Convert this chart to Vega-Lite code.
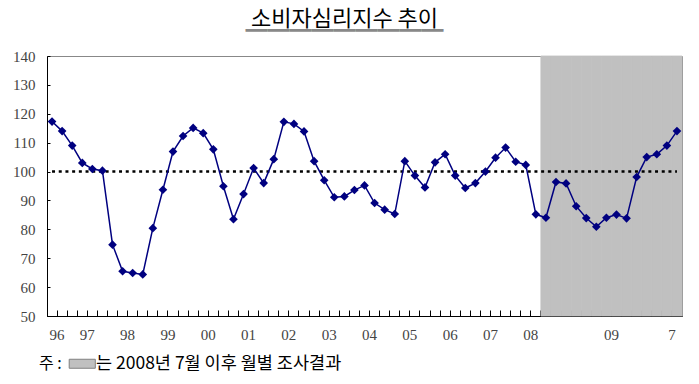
{
  "$schema": "https://vega.github.io/schema/vega-lite/v6.json",
  "width": 635,
  "height": 260,
  "autosize": {"type": "none"},
  "padding": {"left": 47, "top": 56, "right": 17, "bottom": 68},
  "background": "white",
  "config": {
    "view": {"stroke": "#888888", "strokeWidth": 1},
    "axisY": {
      "grid": false,
      "tickCount": 10,
      "labelOverlap": false,
      "labelFlush": false,
      "labelFont": "Liberation Serif",
      "labelFontSize": 15,
      "labelColor": "#444444",
      "labelPadding": 15,
      "tickSize": -3,
      "tickColor": "#000000",
      "domainColor": "#000000"
    }
  },
  "title": {
    "text": "소비자심리지수 추이",
    "subtitle": "━━━━━━━━━",
    "font": "Noto Sans CJK KR",
    "fontSize": 22,
    "fontWeight": "normal",
    "color": "#000000",
    "subtitleFont": "Noto Sans CJK KR",
    "subtitleFontSize": 22,
    "subtitleColor": "#888888",
    "subtitlePadding": -10,
    "anchor": "middle",
    "dx": -20,
    "offset": 6
  },
  "data": {
    "values": [
      {"period": "1996-04", "kind": "quarterly", "value": 117.3},
      {"period": "1996-07", "kind": "quarterly", "value": 114.0},
      {"period": "1996-10", "kind": "quarterly", "value": 109.0},
      {"period": "1997-01", "kind": "quarterly", "value": 103.0},
      {"period": "1997-04", "kind": "quarterly", "value": 100.9},
      {"period": "1997-07", "kind": "quarterly", "value": 100.3},
      {"period": "1997-10", "kind": "quarterly", "value": 74.7},
      {"period": "1998-01", "kind": "quarterly", "value": 65.5},
      {"period": "1998-04", "kind": "quarterly", "value": 64.9},
      {"period": "1998-07", "kind": "quarterly", "value": 64.4},
      {"period": "1998-10", "kind": "quarterly", "value": 80.4},
      {"period": "1999-01", "kind": "quarterly", "value": 93.7},
      {"period": "1999-04", "kind": "quarterly", "value": 106.9},
      {"period": "1999-07", "kind": "quarterly", "value": 112.3},
      {"period": "1999-10", "kind": "quarterly", "value": 115.1},
      {"period": "2000-01", "kind": "quarterly", "value": 113.3},
      {"period": "2000-04", "kind": "quarterly", "value": 107.7},
      {"period": "2000-07", "kind": "quarterly", "value": 94.9},
      {"period": "2000-10", "kind": "quarterly", "value": 83.5},
      {"period": "2001-01", "kind": "quarterly", "value": 92.2},
      {"period": "2001-04", "kind": "quarterly", "value": 101.2},
      {"period": "2001-07", "kind": "quarterly", "value": 96.0},
      {"period": "2001-10", "kind": "quarterly", "value": 104.3},
      {"period": "2002-01", "kind": "quarterly", "value": 117.2},
      {"period": "2002-04", "kind": "quarterly", "value": 116.5},
      {"period": "2002-07", "kind": "quarterly", "value": 113.9},
      {"period": "2002-10", "kind": "quarterly", "value": 103.6},
      {"period": "2003-01", "kind": "quarterly", "value": 97.0},
      {"period": "2003-04", "kind": "quarterly", "value": 91.1},
      {"period": "2003-07", "kind": "quarterly", "value": 91.4},
      {"period": "2003-10", "kind": "quarterly", "value": 93.6},
      {"period": "2004-01", "kind": "quarterly", "value": 95.2},
      {"period": "2004-04", "kind": "quarterly", "value": 89.1},
      {"period": "2004-07", "kind": "quarterly", "value": 86.8},
      {"period": "2004-10", "kind": "quarterly", "value": 85.3},
      {"period": "2005-01", "kind": "quarterly", "value": 103.6},
      {"period": "2005-04", "kind": "quarterly", "value": 98.6},
      {"period": "2005-07", "kind": "quarterly", "value": 94.5},
      {"period": "2005-10", "kind": "quarterly", "value": 103.2},
      {"period": "2006-01", "kind": "quarterly", "value": 106.0},
      {"period": "2006-04", "kind": "quarterly", "value": 98.6},
      {"period": "2006-07", "kind": "quarterly", "value": 94.3},
      {"period": "2006-10", "kind": "quarterly", "value": 96.0},
      {"period": "2007-01", "kind": "quarterly", "value": 100.0},
      {"period": "2007-04", "kind": "quarterly", "value": 104.8},
      {"period": "2007-07", "kind": "quarterly", "value": 108.3},
      {"period": "2007-10", "kind": "quarterly", "value": 103.4},
      {"period": "2008-01", "kind": "quarterly", "value": 102.3},
      {"period": "2008-04", "kind": "quarterly", "value": 85.2},
      {"period": "2008-07", "kind": "monthly", "value": 84.0},
      {"period": "2008-08", "kind": "monthly", "value": 96.4},
      {"period": "2008-09", "kind": "monthly", "value": 95.9},
      {"period": "2008-10", "kind": "monthly", "value": 88.0},
      {"period": "2008-11", "kind": "monthly", "value": 83.9},
      {"period": "2008-12", "kind": "monthly", "value": 80.9},
      {"period": "2009-01", "kind": "monthly", "value": 84.0},
      {"period": "2009-02", "kind": "monthly", "value": 85.1},
      {"period": "2009-03", "kind": "monthly", "value": 83.8},
      {"period": "2009-04", "kind": "monthly", "value": 98.1},
      {"period": "2009-05", "kind": "monthly", "value": 105.0},
      {"period": "2009-06", "kind": "monthly", "value": 106.0},
      {"period": "2009-07", "kind": "monthly", "value": 109.0},
      {"period": "2009-08", "kind": "monthly", "value": 114.0}
    ]
  },
  "encoding": {
    "x": {
      "field": "period",
      "type": "ordinal",
      "sort": "ascending",
      "scale": {"paddingInner": 0, "paddingOuter": 0},
      "axis": {
        "title": null,
        "bandPosition": 0,
        "labelOffset": 5,
        "labelAngle": 0,
        "labelOverlap": false,
        "labelFlush": false,
        "labelExpr": "datum.value == '1996-04' ? '96' : (datum.value == '2009-07' ? '7' : (slice(datum.value, 5) == '01' ? substring(datum.value, 2, 4) : ''))",
        "labelFont": "Liberation Serif",
        "labelFontSize": 15,
        "labelColor": "#444444",
        "labelPadding": 17,
        "tickSize": -6,
        "tickColor": "#000000",
        "domainColor": "#000000"
      }
    }
  },
  "layer": [
    {
      "transform": [{"filter": "datum.kind == 'monthly'"}],
      "mark": {"type": "bar", "stroke": "#c0c0c0", "strokeWidth": 0.8},
      "encoding": {
        "y": {
          "datum": 140,
          "type": "quantitative",
          "scale": {"domain": [50, 140], "nice": false, "zero": false},
          "axis": {"title": null, "values": [50, 60, 70, 80, 90, 100, 110, 120, 130, 140]}
        },
        "y2": {"datum": 50},
        "color": {
          "datum": "는 2008년 7월 이후 월별 조사결과",
          "type": "nominal",
          "scale": {"range": ["#c0c0c0"]},
          "legend": {
            "orient": "none",
            "legendX": -8,
            "legendY": 299,
            "title": "주 :",
            "titleOrient": "left",
            "titleFont": "Noto Sans CJK KR",
            "titleFontSize": 16,
            "titleFontWeight": "normal",
            "titleColor": "#000000",
            "titlePadding": 11.5,
            "labelFont": "Noto Sans CJK KR",
            "labelFontSize": 17.5,
            "labelColor": "#000000",
            "labelOffset": 5,
            "labelLimit": 400,
            "symbolType": "M-2.9,-1H2.9V1H-2.9Z",
            "symbolSize": 81,
            "symbolStrokeColor": "#808080",
            "symbolStrokeWidth": 1
          }
        }
      }
    },
    {
      "mark": {"type": "line", "color": "#000000", "strokeWidth": 2.5, "strokeDash": [3, 3.7]},
      "encoding": {
        "y": {"datum": 100, "type": "quantitative", "axis": {"title": null, "values": [50, 60, 70, 80, 90, 100, 110, 120, 130, 140]}}
      }
    },
    {
      "mark": {"type": "line", "color": "#000080", "strokeWidth": 1.5},
      "encoding": {
        "y": {"field": "value", "type": "quantitative", "axis": {"title": null, "values": [50, 60, 70, 80, 90, 100, 110, 120, 130, 140]}}
      }
    },
    {
      "mark": {"type": "point", "shape": "diamond", "filled": true, "color": "#000080", "size": 75, "opacity": 1},
      "encoding": {
        "y": {"field": "value", "type": "quantitative", "axis": {"title": null, "values": [50, 60, 70, 80, 90, 100, 110, 120, 130, 140]}}
      }
    }
  ]
}
